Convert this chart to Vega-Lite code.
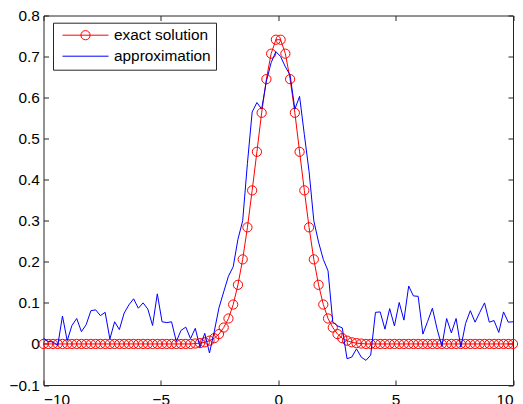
{
  "$schema": "https://vega.github.io/schema/vega-lite/v6.json",
  "width": 469.5,
  "height": 369.5,
  "autosize": "none",
  "padding": {"left": 43.5, "top": 15.5, "right": 10, "bottom": 19},
  "background": "white",
  "config": {
    "view": {"stroke": "#262626", "strokeWidth": 1},
    "font": "Liberation Sans",
    "axis": {"grid": false, "domain": false, "tickColor": "#262626", "tickSize": -5, "tickWidth": 1, "labelFont": "Liberation Sans", "labelFontSize": 15.4, "labelColor": "#000000", "title": null}
  },
  "datasets": {
    "exact": [
      {"x": -10, "y": 0}, {"x": -9.798, "y": 0}, {"x": -9.596, "y": 0}, {"x": -9.394, "y": 0}, {"x": -9.192, "y": 0},
      {"x": -8.99, "y": 0}, {"x": -8.788, "y": 0}, {"x": -8.586, "y": 0}, {"x": -8.384, "y": 0}, {"x": -8.182, "y": 0},
      {"x": -7.98, "y": 0}, {"x": -7.778, "y": 0}, {"x": -7.576, "y": 0}, {"x": -7.374, "y": 0}, {"x": -7.172, "y": 0},
      {"x": -6.97, "y": 0}, {"x": -6.768, "y": 0}, {"x": -6.566, "y": 0}, {"x": -6.364, "y": 0}, {"x": -6.162, "y": 0},
      {"x": -5.96, "y": 0}, {"x": -5.758, "y": 0}, {"x": -5.556, "y": 0}, {"x": -5.354, "y": 0}, {"x": -5.152, "y": 0},
      {"x": -4.949, "y": 0}, {"x": -4.747, "y": 0}, {"x": -4.545, "y": 0}, {"x": -4.343, "y": 0}, {"x": -4.141, "y": 0},
      {"x": -3.939, "y": 0}, {"x": -3.737, "y": 0}, {"x": -3.535, "y": 0.001}, {"x": -3.333, "y": 0.002}, {"x": -3.131, "y": 0.004},
      {"x": -2.929, "y": 0.008}, {"x": -2.727, "y": 0.014}, {"x": -2.525, "y": 0.024}, {"x": -2.323, "y": 0.04}, {"x": -2.121, "y": 0.062},
      {"x": -1.919, "y": 0.096}, {"x": -1.717, "y": 0.144}, {"x": -1.515, "y": 0.206}, {"x": -1.313, "y": 0.284}, {"x": -1.111, "y": 0.374},
      {"x": -0.909, "y": 0.468}, {"x": -0.707, "y": 0.563}, {"x": -0.505, "y": 0.645}, {"x": -0.303, "y": 0.707}, {"x": -0.101, "y": 0.741},
      {"x": 0.101, "y": 0.741}, {"x": 0.303, "y": 0.707}, {"x": 0.505, "y": 0.645}, {"x": 0.707, "y": 0.563}, {"x": 0.909, "y": 0.468},
      {"x": 1.111, "y": 0.374}, {"x": 1.313, "y": 0.284}, {"x": 1.515, "y": 0.206}, {"x": 1.717, "y": 0.144}, {"x": 1.919, "y": 0.096},
      {"x": 2.121, "y": 0.062}, {"x": 2.323, "y": 0.04}, {"x": 2.525, "y": 0.024}, {"x": 2.727, "y": 0.014}, {"x": 2.929, "y": 0.008},
      {"x": 3.131, "y": 0.004}, {"x": 3.333, "y": 0.002}, {"x": 3.535, "y": 0.001}, {"x": 3.737, "y": 0}, {"x": 3.939, "y": 0},
      {"x": 4.141, "y": 0}, {"x": 4.343, "y": 0}, {"x": 4.545, "y": 0}, {"x": 4.747, "y": 0}, {"x": 4.949, "y": 0},
      {"x": 5.152, "y": 0}, {"x": 5.354, "y": 0}, {"x": 5.556, "y": 0}, {"x": 5.758, "y": 0}, {"x": 5.96, "y": 0},
      {"x": 6.162, "y": 0}, {"x": 6.364, "y": 0}, {"x": 6.566, "y": 0}, {"x": 6.768, "y": 0}, {"x": 6.97, "y": 0},
      {"x": 7.172, "y": 0}, {"x": 7.374, "y": 0}, {"x": 7.576, "y": 0}, {"x": 7.778, "y": 0}, {"x": 7.98, "y": 0},
      {"x": 8.182, "y": 0}, {"x": 8.384, "y": 0}, {"x": 8.586, "y": 0}, {"x": 8.788, "y": 0}, {"x": 8.99, "y": 0},
      {"x": 9.192, "y": 0}, {"x": 9.394, "y": 0}, {"x": 9.596, "y": 0}, {"x": 9.798, "y": 0}, {"x": 10, "y": 0}
    ],
    "approx": [
      {"x": -10, "y": 0.014}, {"x": -9.798, "y": 0.006}, {"x": -9.596, "y": 0.005}, {"x": -9.394, "y": -0.004}, {"x": -9.192, "y": 0.068},
      {"x": -8.99, "y": 0.008}, {"x": -8.788, "y": 0.045}, {"x": -8.586, "y": 0.062}, {"x": -8.384, "y": 0.03}, {"x": -8.182, "y": 0.047},
      {"x": -7.98, "y": 0.081}, {"x": -7.778, "y": 0.083}, {"x": -7.576, "y": 0.069}, {"x": -7.374, "y": 0.077}, {"x": -7.172, "y": 0.012},
      {"x": -6.97, "y": 0.054}, {"x": -6.768, "y": 0.035}, {"x": -6.566, "y": 0.075}, {"x": -6.364, "y": 0.095}, {"x": -6.162, "y": 0.11},
      {"x": -5.96, "y": 0.087}, {"x": -5.758, "y": 0.1}, {"x": -5.556, "y": 0.085}, {"x": -5.354, "y": 0.045}, {"x": -5.152, "y": 0.122},
      {"x": -4.949, "y": 0.054}, {"x": -4.747, "y": 0.052}, {"x": -4.545, "y": 0.054}, {"x": -4.343, "y": 0.006}, {"x": -4.141, "y": 0.033},
      {"x": -3.939, "y": 0.041}, {"x": -3.737, "y": 0.013}, {"x": -3.535, "y": 0.038}, {"x": -3.333, "y": -0.008}, {"x": -3.131, "y": 0.026},
      {"x": -2.929, "y": -0.022}, {"x": -2.727, "y": 0.03}, {"x": -2.525, "y": 0.088}, {"x": -2.323, "y": 0.127}, {"x": -2.121, "y": 0.165},
      {"x": -1.919, "y": 0.188}, {"x": -1.717, "y": 0.255}, {"x": -1.515, "y": 0.3}, {"x": -1.313, "y": 0.44}, {"x": -1.111, "y": 0.565},
      {"x": -0.909, "y": 0.588}, {"x": -0.707, "y": 0.572}, {"x": -0.505, "y": 0.64}, {"x": -0.303, "y": 0.685}, {"x": -0.101, "y": 0.712},
      {"x": 0.101, "y": 0.7}, {"x": 0.303, "y": 0.675}, {"x": 0.505, "y": 0.655}, {"x": 0.707, "y": 0.572}, {"x": 0.909, "y": 0.603},
      {"x": 1.111, "y": 0.51}, {"x": 1.313, "y": 0.42}, {"x": 1.515, "y": 0.3}, {"x": 1.717, "y": 0.248}, {"x": 1.919, "y": 0.206},
      {"x": 2.121, "y": 0.178}, {"x": 2.323, "y": 0.053}, {"x": 2.525, "y": 0.044}, {"x": 2.727, "y": 0.039}, {"x": 2.929, "y": -0.036},
      {"x": 3.131, "y": -0.032}, {"x": 3.333, "y": -0.012}, {"x": 3.535, "y": -0.032}, {"x": 3.737, "y": -0.04}, {"x": 3.939, "y": -0.027},
      {"x": 4.141, "y": 0.077}, {"x": 4.343, "y": 0.078}, {"x": 4.545, "y": 0.036}, {"x": 4.747, "y": 0.086}, {"x": 4.949, "y": 0.044},
      {"x": 5.152, "y": 0.101}, {"x": 5.354, "y": 0.058}, {"x": 5.556, "y": 0.141}, {"x": 5.758, "y": 0.117}, {"x": 5.96, "y": 0.116},
      {"x": 6.162, "y": 0.024}, {"x": 6.364, "y": 0.055}, {"x": 6.566, "y": 0.087}, {"x": 6.768, "y": 0.036}, {"x": 6.97, "y": -0.006},
      {"x": 7.172, "y": 0.062}, {"x": 7.374, "y": 0.027}, {"x": 7.576, "y": 0.062}, {"x": 7.778, "y": -0.008}, {"x": 7.98, "y": 0.05},
      {"x": 8.182, "y": 0.081}, {"x": 8.384, "y": 0.053}, {"x": 8.586, "y": 0.077}, {"x": 8.788, "y": 0.1}, {"x": 8.99, "y": 0.053},
      {"x": 9.192, "y": 0.057}, {"x": 9.394, "y": 0.028}, {"x": 9.596, "y": 0.078}, {"x": 9.798, "y": 0.053}, {"x": 10, "y": 0.054}
    ]
  },
  "layer": [
    {
      "data": {"name": "exact"},
      "mark": {"type": "line", "strokeWidth": 1},
      "encoding": {
        "x": {"field": "x", "type": "quantitative", "scale": {"domain": [-10, 10], "nice": false, "zero": false},
              "axis": {"orient": "bottom", "values": [-10, -5, 0, 5, 10], "labelPadding": 12, "title": null}},
        "y": {"field": "y", "type": "quantitative", "scale": {"domain": [-0.1, 0.8], "nice": false, "zero": false},
              "axis": {"orient": "left", "values": [-0.1, 0, 0.1, 0.2, 0.3, 0.4, 0.5, 0.6, 0.7, 0.8], "format": ".1~f", "labelPadding": 9.2, "title": null}},
        "color": {"datum": "exact solution", "type": "nominal",
                  "scale": {"domain": ["exact solution", "approximation"], "range": ["#ff0000", "#0000ff"]},
                  "legend": {
                    "title": null, "orient": "none", "legendX": 9.5, "legendY": 7.2,
                    "strokeColor": "#262626", "fillColor": "white", "padding": 5, "cornerRadius": 0,
                    "symbolSize": 2116, "symbolStrokeWidth": 1, "symbolOffset": 4, "labelOffset": 5,
                    "clipHeight": 15,
                    "labelFontSize": 15.4, "labelFont": "Liberation Sans", "labelColor": "#000000", "rowPadding": 5, "labelLimit": 300,
                    "encode": {"symbols": {"update": {
                      "shape": {"signal": "datum.value === 'exact solution' ? 'M-1,0H1M0.2,0A0.2,0.2,0,1,1,-0.2,0A0.2,0.2,0,1,1,0.2,0' : 'M-1,0H1'"},
                      "fill": {"value": "transparent"},
                      "stroke": {"signal": "datum.value === 'exact solution' ? '#ff0000' : '#0000ff'"},
                      "strokeWidth": {"value": 1},
                      "opacity": {"value": 1}
                    }}}
                  }}
      }
    },
    {
      "data": {"name": "exact"},
      "mark": {"type": "point", "shape": "circle", "filled": false, "size": 85, "strokeWidth": 1, "opacity": 1},
      "encoding": {
        "x": {"field": "x", "type": "quantitative", "axis": null},
        "y": {"field": "y", "type": "quantitative", "axis": null},
        "color": {"datum": "exact solution", "type": "nominal"}
      }
    },
    {
      "data": {"name": "approx"},
      "mark": {"type": "line", "strokeWidth": 1},
      "encoding": {
        "x": {"field": "x", "type": "quantitative", "axis": {"orient": "top", "values": [-10, -5, 0, 5, 10], "labels": false, "title": null}},
        "y": {"field": "y", "type": "quantitative", "axis": {"orient": "right", "values": [-0.1, 0, 0.1, 0.2, 0.3, 0.4, 0.5, 0.6, 0.7, 0.8], "labels": false, "title": null}},
        "color": {"datum": "approximation", "type": "nominal"}
      }
    }
  ],
  "resolve": {"axis": {"x": "independent", "y": "independent"}}
}
